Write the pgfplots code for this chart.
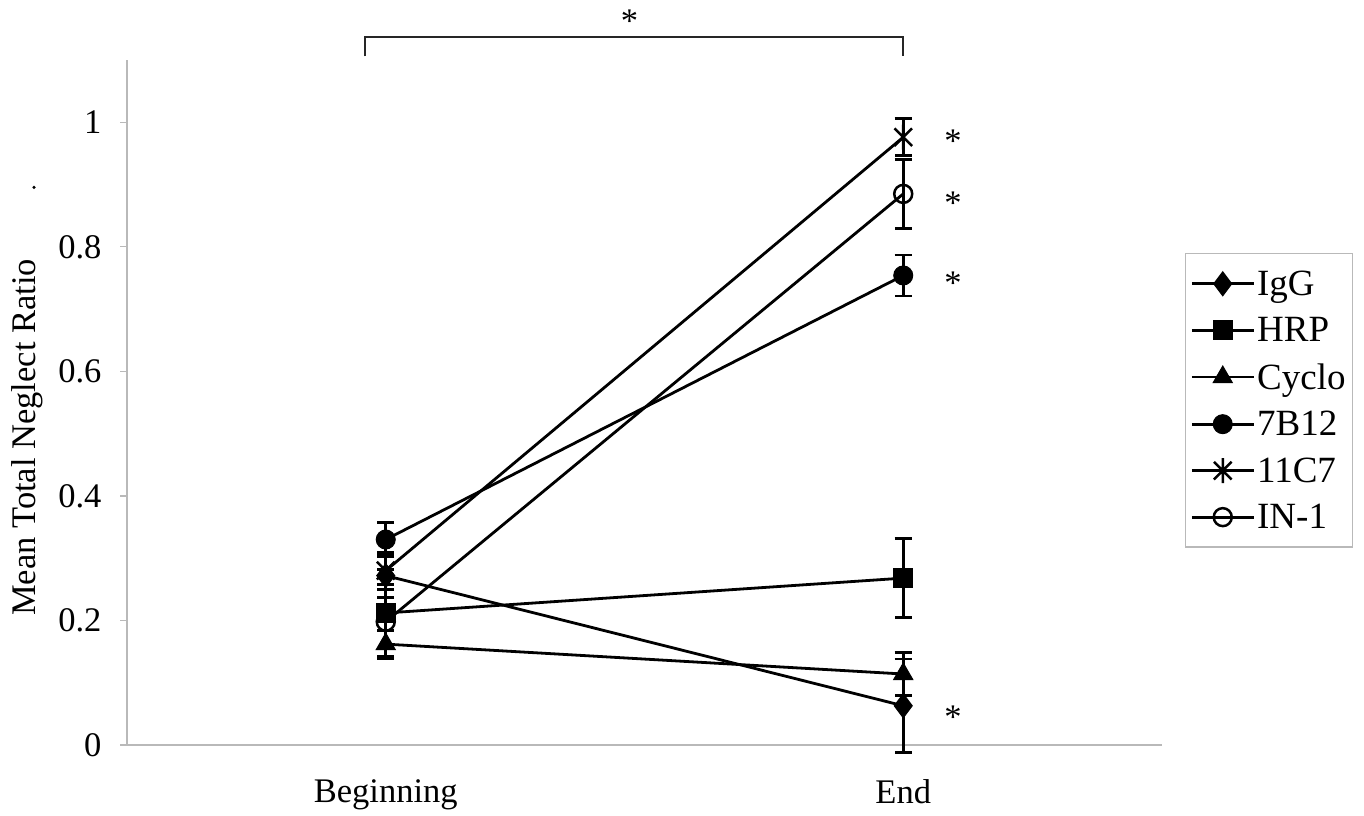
\documentclass[border=0pt]{standalone}
\usepackage{fontspec}
\setmainfont{Liberation Serif}
\usepackage{pgfplots}
\usepackage{pgfplotstable}
\pgfplotsset{compat=1.18}
\newcommand\bigf{\fontsize{34.5}{41}\selectfont}
\newcommand\legf{\fontsize{37}{44}\selectfont}
\newcommand\labf{\fontsize{34.5}{41}\selectfont}
\pgfdeclareplotmark{xstar}{%
  \pgfpathmoveto{\pgfqpoint{0pt}{\pgfplotmarksize}}%
  \pgfpathlineto{\pgfqpoint{0pt}{-\pgfplotmarksize}}%
  \pgfpathmoveto{\pgfqpoint{0.7071\pgfplotmarksize}{0.7071\pgfplotmarksize}}%
  \pgfpathlineto{\pgfqpoint{-0.7071\pgfplotmarksize}{-0.7071\pgfplotmarksize}}%
  \pgfpathmoveto{\pgfqpoint{-0.7071\pgfplotmarksize}{0.7071\pgfplotmarksize}}%
  \pgfpathlineto{\pgfqpoint{0.7071\pgfplotmarksize}{-0.7071\pgfplotmarksize}}%
  \pgfusepathqstroke}

\pgfplotstableread{
x y e
0.5 0.272 0.035
1.5 0.063 0.075
}\igg
\pgfplotstableread{
x y e
0.5 0.212 0.070
1.5 0.268 0.063
}\hrp
\pgfplotstableread{
x y e
0.5 0.162 0.022
1.5 0.114 0.035
}\cyclo
\pgfplotstableread{
x y e
0.5 0.330 0.027
1.5 0.754 0.033
}\sevenb
\pgfplotstableread{
x y e
0.5 0.280 0.030
1.5 0.976 0.030
}\elevenc
\pgfplotstableread{
x y e
0.5 0.198 0.060
1.5 0.885 0.055
}\inone

\begin{document}
\begin{tikzpicture}[x=1pt,y=1pt]
\path[use as bounding box] (0,0) rectangle (1364,815);
\begin{axis}[
  at={(127pt,70pt)}, anchor=south west,
  scale only axis, width=1035pt, height=685pt,
  xmin=0, xmax=2, ymin=0, ymax=1.1,
  axis lines*=left,
  axis line style={draw=gray!55, line width=1.2pt, -},
  tick align=outside,
  major tick length=7pt, minor tick length=7pt,
  every tick/.style={draw=gray!55, line width=1.2pt},
  xtick={0.5,1.5}, xticklabels={Beginning,End},
  xtick style={draw=none},
  minor xtick={0,1,2},
  ytick={0,0.2,0.4,0.6,0.8,1},
  yticklabels={0,0.2,0.4,0.6,0.8,1},
  tick label style={font=\bigf},
  xticklabel style={yshift=-24pt},
  yticklabel style={xshift=-15pt},
  ylabel={Mean Total Neglect Ratio},
  every axis y label/.style={at={(axis description cs:-0.096,0.449)}, rotate=90, anchor=center, font=\labf},
  clip=false,
  legend style={at={(axis description cs:1.022,0.718)}, anchor=north west,
    draw=gray!55, line width=1.2pt, font=\legf, row sep=16.5pt,
    inner xsep=5pt, inner ysep=15pt},
  legend cell align=left,
  legend image code/.code={\draw[mark repeat=2,mark phase=2] plot coordinates {(0pt,0pt) (31pt,0pt) (62pt,0pt)};},
  every axis plot/.append style={black, line width=2.8pt,
    error bars/y dir=both, error bars/y explicit,
    error bars/error mark options={black, mark size=8.5pt, line width=2.8pt, rotate=90},
    error bars/error bar style={line width=2.8pt, black}},
]
\addplot[mark=diamond*, mark size=12pt, mark options={line width=1pt}] table[x=x,y=y,y error=e]{\igg};
\addlegendentry{IgG}
\addplot[mark=square*, mark size=9.5pt, mark options={line width=1pt}] table[x=x,y=y,y error=e]{\hrp};
\addlegendentry{HRP}
\addplot[mark=triangle*, mark size=11pt, mark options={line width=1pt}] table[x=x,y=y,y error=e]{\cyclo};
\addlegendentry{Cyclo}
\addplot[mark=*, mark size=9.5pt, mark options={line width=1pt}] table[x=x,y=y,y error=e]{\sevenb};
\addlegendentry{7B12}
\addplot[mark=xstar, mark size=12.5pt, mark options={line width=2.5pt}] table[x=x,y=y,y error=e]{\elevenc};
\addlegendentry{11C7}
\addplot[mark=o, mark size=9pt, mark options={line width=2.5pt}] table[x=x,y=y,y error=e]{\inone};
\addlegendentry{IN-1}

\node[font=\bigf, yshift=-4pt] at (axis cs:1.596,0.976) {*};
\node[font=\bigf, yshift=-4pt] at (axis cs:1.596,0.876) {*};
\node[font=\bigf, yshift=-4pt] at (axis cs:1.596,0.748) {*};
\node[font=\bigf, yshift=-4pt] at (axis cs:1.596,0.051) {*};
\draw[line width=2pt, black!85] (axis cs:0.46,1.106) |- (axis cs:1.5,1.137) -- (axis cs:1.5,1.106);
\node[font=\bigf, yshift=-4pt] at (axis cs:0.971,1.169) {*};
\node[circle, fill=black, inner sep=0pt, minimum size=3.5pt] at (axis cs:-0.1797,0.8955) {};
\end{axis}
\end{tikzpicture}
\end{document}
